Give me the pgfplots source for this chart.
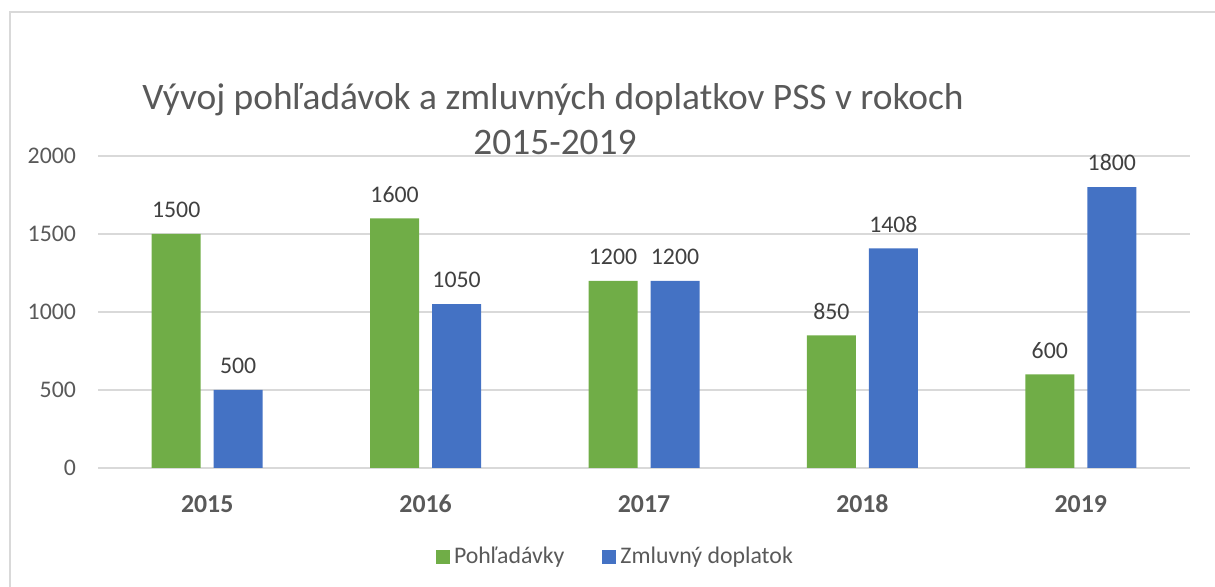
\documentclass[border=0pt]{standalone}
\usepackage{fontspec}
\setmainfont{Carlito}
\usepackage{pgfplots}
\pgfplotsset{compat=1.18}
\definecolor{cgreen}{HTML}{70AD47}
\definecolor{cblue}{HTML}{4472C4}
\definecolor{ctext}{HTML}{595959}
\definecolor{clabel}{HTML}{404040}
\definecolor{cgrid}{HTML}{D9D9D9}
\newcommand{\lblfont}{\fontsize{11.9}{14}\selectfont}

\begin{document}
\begin{tikzpicture}
% page = 1215x587 px at 0.5pt per px
\useasboundingbox (0,0) rectangle (607.5pt,293.5pt);
\clip (0,0) rectangle (607.5pt,293.5pt);
% outer chart frame (cropped on right and bottom)
\draw[cgrid, line width=0.8pt] (5pt,-5pt) -- (5pt,287.5pt) -- (620pt,287.5pt);

% title
\node[anchor=base, text=ctext, font=\fontsize{18.7}{22}\selectfont] at (276.5pt,238.5pt)
  {Vývoj pohľadávok a zmluvných doplatkov PSS v rokoch};
\node[anchor=base, text=ctext, font=\fontsize{18.7}{22}\selectfont] at (277.5pt,216pt)
  {2015-2019};

\begin{axis}[
    at={(49pt,59.5pt)}, anchor=south west,
    scale only axis, width=546pt, height=156pt,
    ybar=6.5pt, bar width=24.5pt,
    xmin=-0.5, xmax=4.5, ymin=0, ymax=2000,
    xtick={0,1,2,3,4},
    xticklabels={2015,2016,2017,2018,2019},
    ytick={0,500,1000,1500,2000},
    ymajorgrids, grid style={cgrid, line width=0.75pt},
    axis line style={draw=none},
    major tick style={draw=none},
    /pgf/number format/assume math mode=true,
    /pgf/number format/1000 sep={},
    xticklabel style={font=\fontsize{12.9}{15}\selectfont\bfseries, text=ctext,
        text height=8.3pt, text depth=0pt, yshift=-6.3pt},
    yticklabel style={font=\lblfont, text=ctext, xshift=-7.5pt},
    nodes near coords,
    every node near coord/.append style={font=\lblfont, text=clabel, yshift=4.5pt},
    legend columns=2,
    legend style={draw=none, fill=none, at={(0.4748,-0.285)}, anchor=center,
        font=\lblfont, text=ctext,
        /tikz/every even column/.append style={column sep=17pt}},
    legend image code/.code={\fill[#1] (-1.5pt,-3.5pt) rectangle (5.5pt,3.5pt);},
]
\addplot[fill=cgreen, draw=none] coordinates {(0,1500) (1,1600) (2,1200) (3,850) (4,600)};
\addplot[fill=cblue, draw=none] coordinates {(0,500) (1,1050) (2,1200) (3,1408) (4,1800)};
\legend{Pohľadávky, Zmluvný doplatok}
\end{axis}
\end{tikzpicture}
\end{document}
